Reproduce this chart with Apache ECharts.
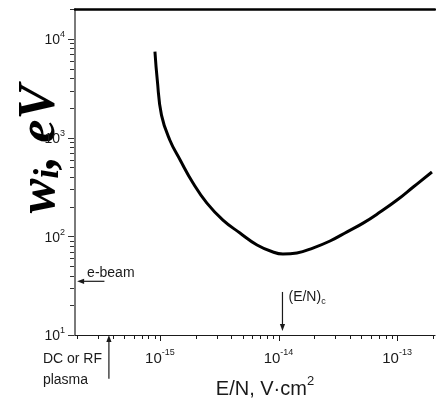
<!DOCTYPE html>
<html>
<head>
<meta charset="utf-8">
<script src="https://cdn.jsdelivr.net/npm/echarts@6/dist/echarts.min.js"></script>
<style>
  html, body { margin: 0; padding: 0; background: #fff; }
  #chart { width: 436px; height: 401px; }
</style>
</head>
<body>
<div id="chart"></div>
<script>
// Energy cost per ion pair w_i (eV) against reduced field E/N (V·cm²)
const fieldEN = [9.07e-16, 9.49e-16, 1.03e-15, 1.21e-15, 1.48e-15, 1.90e-15, 2.49e-15,
                 3.40e-15, 4.73e-15, 6.59e-15, 8.99e-15, 1.09e-14, 1.43e-14, 1.95e-14,
                 2.72e-14, 3.79e-14, 5.17e-14, 7.19e-14, 1.0e-13, 1.37e-13, 1.97e-13];
const energyWi = [7420, 3840, 1690, 946, 593, 347, 217,
                  146, 108, 81.7, 69.3, 66.2, 67.8, 76.0,
                  89.6, 111, 136, 176, 233, 316, 448];

// Axis extents
const xRange = [1.92e-16, 2.09e-13];
const yRange = [10, 2e4];

// Log tick pattern: 1..9 within each decade
const tickMultipliers = [1, 2, 3, 4, 5, 6, 7, 8, 9];
const xTickDecades = [-16, -15, -14, -13];
const yTickDecades = [1, 2, 3, 4];

// Annotation arrows (start point -> arrow tip) and their captions
const annotationText = ['e-beam', 'DC or RF\nplasma', '{n|(E/N)}{c|c}'];
const arrowStartX = [3.4e-16, 3.71e-16, 1.08e-14];
const arrowStartY = [35, 3.6, 27.3];
const arrowTipX = [2.0e-16, 3.71e-16, 1.08e-14];
const arrowTipY = [35, 10, 11.0];

// Caption placement relative to an arrow end (layout only)
const captionLayout = [
  { anchor: 'tip',   dx: 10,  dy: -8,    align: 'left', vAlign: 'middle' },
  { anchor: 'start', dx: -66, dy: -30,   align: 'left', vAlign: 'top' },
  { anchor: 'start', dx: 6,   dy: 6,     align: 'left', vAlign: 'middle' }
];

const SANS = '"Liberation Sans", Arial, sans-serif';
const SERIF = '"Liberation Serif", "Times New Roman", serif';
const INK = '#1a1a1a';

function buildTicks(decades, range) {
  const out = [];
  decades.forEach(function (d) {
    tickMultipliers.forEach(function (m) {
      const v = m * Math.pow(10, d);
      if (v >= range[0] * 0.999 && v <= range[1] * 1.001) out.push({ v: v, major: m === 1 ? 1 : 0 });
    });
  });
  return out;
}
const xTicks = buildTicks(xTickDecades, xRange);
const yTicks = buildTicks(yTickDecades, yRange);

function decadeLabel(v) {
  const e = Math.log10(v);
  const r = Math.round(e);
  if (Math.abs(e - r) > 1e-6) return '';
  return '{b|10}{s|' + r + '}';
}

const chart = echarts.init(document.getElementById('chart'), null, { renderer: 'canvas' });

chart.setOption({
  animation: false,
  backgroundColor: '#fff',
  grid: { left: 75, right: 1, top: 9.2, bottom: 66, containLabel: false, outerBoundsMode: 'none' },
  xAxis: [
    {
      type: 'log',
      min: xRange[0],
      max: xRange[1],
      position: 'bottom',
      axisLine: { show: true, lineStyle: { color: INK, width: 1.2 } },
      axisTick: { show: false },
      splitLine: { show: false },
      minorTick: { show: false },
      axisLabel: {
        show: true,
        margin: 13,
        formatter: decadeLabel,
        color: INK,
        rich: {
          b: { fontSize: 15, fontFamily: SANS, color: INK, lineHeight: 18, verticalAlign: 'bottom' },
          s: { fontSize: 9, fontFamily: SANS, color: INK, lineHeight: 10, verticalAlign: 'top' }
        }
      },
      name: '{a|E/N, V·cm}{s|2}',
      nameLocation: 'middle',
      nameGap: 40,
      nameMoveOverlap: false,
      nameTextStyle: {
        padding: [0, 0, 0, 20],
        rich: {
          a: { fontSize: 20, fontFamily: SANS, color: INK, lineHeight: 24, verticalAlign: 'bottom' },
          s: { fontSize: 13, fontFamily: SANS, color: INK, lineHeight: 14, verticalAlign: 'top' }
        }
      }
    },
    {
      // top frame edge
      type: 'log',
      min: xRange[0],
      max: xRange[1],
      position: 'top',
      axisLine: { show: true, lineStyle: { color: '#000', width: 2.5 } },
      axisTick: { show: false },
      axisLabel: { show: false },
      splitLine: { show: false }
    }
  ],
  yAxis: {
    type: 'log',
    min: yRange[0],
    max: yRange[1],
    axisLine: { show: true, lineStyle: { color: '#7a7a7a', width: 2 } },
    axisTick: { show: false },
    splitLine: { show: false },
    minorTick: { show: false },
    axisLabel: {
      show: true,
      margin: 10,
      formatter: decadeLabel,
      color: INK,
      rich: {
        b: { fontSize: 14, fontFamily: SANS, color: INK, lineHeight: 17, verticalAlign: 'bottom' },
        s: { fontSize: 9, fontFamily: SANS, color: INK, lineHeight: 10, verticalAlign: 'top' }
      }
    },
    name: '{w|w}{i|i}{r|, eV}',
    nameLocation: 'middle',
    nameRotate: 90,
    nameGap: 8,
    nameMoveOverlap: false,
    nameTextStyle: {
      padding: [0, 0, 0, 46],
      rich: {
        w: { fontSize: 52, fontFamily: SERIF, fontStyle: 'italic', fontWeight: 'bold', color: '#000', lineHeight: 56, verticalAlign: 'bottom' },
        i: { fontSize: 36, fontFamily: SERIF, fontStyle: 'italic', fontWeight: 'bold', color: '#000', lineHeight: 40, verticalAlign: 'bottom' },
        r: { fontSize: 52, fontFamily: SERIF, fontStyle: 'italic', fontWeight: 'bold', color: '#000', lineHeight: 56, verticalAlign: 'bottom' }
      }
    }
  },
  series: [
    {
      name: 'w_i',
      type: 'line',
      data: fieldEN.map(function (x, i) { return [x, energyWi[i]]; }),
      showSymbol: false,
      smooth: 0.45,
      lineStyle: { color: '#000', width: 3, cap: 'butt' },
      z: 5
    },
    {
      name: 'xTicks',
      type: 'custom',
      data: xTicks.map(function (t) { return [t.v, yRange[0], t.major]; }),
      renderItem: function (params, api) {
        const p = api.coord([api.value(0), yRange[0]]);
        const len = api.value(2) ? 6 : 4;
        const x = Math.round(p[0]) + 0.5;
        return { type: 'line', shape: { x1: x, y1: p[1], x2: x, y2: p[1] + len }, style: { stroke: INK, lineWidth: 1 } };
      },
      silent: true,
      z: 4
    },
    {
      name: 'yTicks',
      type: 'custom',
      data: yTicks.map(function (t) { return [xRange[0], t.v, t.major]; }),
      renderItem: function (params, api) {
        const p = api.coord([xRange[0], api.value(1)]);
        const len = api.value(2) ? 6 : 4;
        const y = Math.round(p[1]) + 0.5;
        return { type: 'line', shape: { x1: p[0] - 1, y1: y, x2: p[0] - 1 - len, y2: y }, style: { stroke: '#333', lineWidth: 1 } };
      },
      silent: true,
      z: 4
    },
    {
      name: 'annotations',
      type: 'custom',
      data: arrowStartX.map(function (x, i) { return [x, arrowStartY[i], arrowTipX[i], arrowTipY[i]]; }),
      renderItem: function (params, api) {
        const i = params.dataIndex;
        const p1 = api.coord([api.value(0), api.value(1)]);
        const p2 = api.coord([api.value(2), api.value(3)]);
        const dx = p2[0] - p1[0], dy = p2[1] - p1[1];
        const len = Math.hypot(dx, dy);
        const ux = dx / len, uy = dy / len;
        const nx = -uy, ny = ux;
        const head = 7, half = 2.6;
        const bx = p2[0] - ux * head, by = p2[1] - uy * head;
        const lay = captionLayout[i];
        const a = lay.anchor === 'tip' ? p2 : p1;
        return {
          type: 'group',
          children: [
            { type: 'line', shape: { x1: p1[0], y1: p1[1], x2: bx + ux, y2: by + uy }, style: { stroke: INK, lineWidth: 1.2 } },
            { type: 'polygon', shape: { points: [[p2[0], p2[1]], [bx + nx * half, by + ny * half], [bx - nx * half, by - ny * half]] }, style: { fill: INK } },
            {
              type: 'text',
              x: a[0] + lay.dx,
              y: a[1] + lay.dy,
              style: {
                text: annotationText[i],
                fill: INK,
                fontSize: 14,
                fontFamily: SANS,
                lineHeight: 21,
                align: lay.align,
                verticalAlign: lay.vAlign,
                rich: {
                  n: { fontSize: 14, fontFamily: SANS, fill: INK, lineHeight: 16, verticalAlign: 'top' },
                  c: { fontSize: 9, fontFamily: SANS, fill: INK, lineHeight: 10, verticalAlign: 'bottom' }
                }
              }
            }
          ]
        };
      },
      silent: true,
      z: 6
    }
  ]
});
</script>
</body>
</html>
